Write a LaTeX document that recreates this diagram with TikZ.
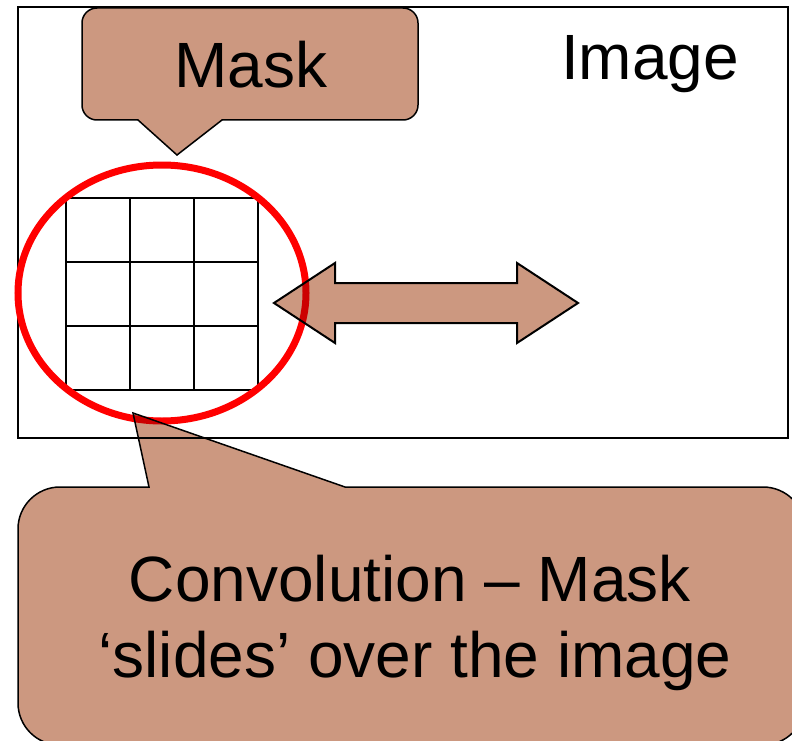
\documentclass[tikz,border=0pt]{standalone}
\usepackage{fontspec}
\setmainfont{Liberation Sans}
\usepackage{tikz}
\definecolor{calloutbrown}{RGB}{204,152,128}

\begin{document}
\begin{tikzpicture}[x=1pt,y=-1pt,
    callout/.style={draw=black,line width=1.5pt,fill=calloutbrown,blend mode=multiply,line join=miter},
    bigtext/.style={font=\fontsize{64}{77}\selectfont,inner sep=0pt}]
  \useasboundingbox (0,0) rectangle (792,741);
  % the image
  \draw[line width=1.5pt] (18,7) rectangle (788,438);
  \node[bigtext,anchor=base] (imagelabel) at (650,80) {Image};
  % the 3x3 mask
  \foreach \i in {0,...,3}{
    \draw[line width=2pt] (66+64*\i,198) -- (66+64*\i,390);
    \draw[line width=2pt] (66,198+64*\i) -- (258,198+64*\i);
  }
  \draw[red,line width=7pt] (162,293) ellipse [x radius=144pt,y radius=128pt];
  % sliding arrow
  \draw[callout,line width=2pt] (274,303) -- (335,263) -- (335,283) -- (517,283) -- (517,263)
     -- (578,303) -- (517,343) -- (517,323) -- (335,323) -- (335,343) -- cycle;
  % callouts
  \draw[callout] (138,120) [rounded corners=15pt] -- (82,120) -- (82,8) -- (418,8) -- (418,120)
     [sharp corners] -- (222,120) -- (177,155) -- cycle;
  \node[bigtext,anchor=base] (masklabel) at (251,88) {Mask};
  \draw[callout] (149,487) [rounded corners=42pt] -- (18,487) -- (18,745) -- (805,745) -- (805,487)
     [sharp corners] -- (345,487) -- (133,413) -- cycle;
  \node[bigtext,anchor=base] (convline1) at (410,601) {Convolution -- Mask};
  \node[bigtext,anchor=base] (convline2) at (415,677) {‘slides’ over the image};
\end{tikzpicture}
\end{document}
